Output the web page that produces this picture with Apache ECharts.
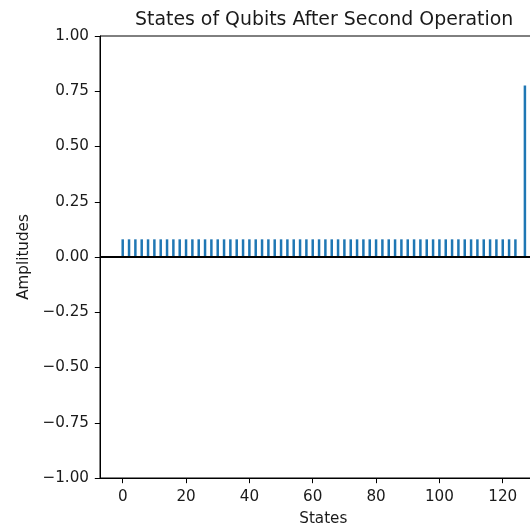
<!DOCTYPE html>
<html><head><meta charset="utf-8">
<script src="https://cdn.jsdelivr.net/npm/echarts@6/dist/echarts.min.js"></script>
<style>html,body{margin:0;padding:0;background:#fff}#c{width:530px;height:527px}</style>
</head><body><div id="c"></div>
<script>
const title = "States of Qubits After Second Operation";
const xLabel = "States";
const yLabel = "Amplitudes";
const xTicks = [0, 20, 40, 60, 80, 100, 120];
const yTicks = [-1, -0.75, -0.5, -0.25, 0, 0.25, 0.5, 0.75, 1];
const states = [];
for (let i = 0; i < 128; i++) states.push(i);
const amplitudes = [
  0.08,0,0.08,0,0.08,0,0.08,0,0.08,0,0.08,0,0.08,0,0.08,0,
  0.08,0,0.08,0,0.08,0,0.08,0,0.08,0,0.08,0,0.08,0,0.08,0,
  0.08,0,0.08,0,0.08,0,0.08,0,0.08,0,0.08,0,0.08,0,0.08,0,
  0.08,0,0.08,0,0.08,0,0.08,0,0.08,0,0.08,0,0.08,0,0.08,0,
  0.08,0,0.08,0,0.08,0,0.08,0,0.08,0,0.08,0,0.08,0,0.08,0,
  0.08,0,0.08,0,0.08,0,0.08,0,0.08,0,0.08,0,0.08,0,0.08,0,
  0.08,0,0.08,0,0.08,0,0.08,0,0.08,0,0.08,0,0.08,0,0.08,0,
  0.08,0,0.08,0,0.08,0,0.08,0,0.08,0,0.08,0,0.08,0,0,0.776
];
const font = "DejaVu Sans";
const txt = '#1a1a1a';
const chart = echarts.init(document.getElementById('c'), null, {renderer:'canvas'});
const fmt = v => (v < 0 ? '\u2212' : '') + Math.abs(v).toFixed(2);
chart.setOption({
  animation: false,
  backgroundColor: '#fff',
  title: {text: title, left: 130, top: 6,
    textStyle: {fontFamily: font, fontSize: 18.9, fontWeight: 'normal', color: txt}},
  grid: {left: 100, top: 36, width: 446.6, height: 442, outerBoundsMode: 'none', containLabel: false,
    show: true, borderColor: '#000', borderWidth: 1, backgroundColor: 'transparent'},
  xAxis: {
    type: 'value', min: -7.17, max: 133.85,
    name: xLabel, nameLocation: 'middle', nameGap: 34,
    nameTextStyle: {fontFamily: font, fontSize: 15.2, color: txt},
    axisLine: {show: true, onZero: false, lineStyle: {color: '#000', width: 1}},
    axisTick: {show: true, length: 5.2, inside: false, customValues: xTicks, lineStyle: {color: '#000'}},
    axisLabel: {customValues: xTicks, fontFamily: font, fontSize: 15.2, color: txt, margin: 12, showMinLabel: true, showMaxLabel: true},
    splitLine: {show: false}
  },
  yAxis: {
    type: 'value', min: -1, max: 1, interval: 0.25,
    name: yLabel, nameLocation: 'middle', nameGap: 66, nameRotate: 90,
    nameTextStyle: {fontFamily: font, fontSize: 15.2, color: txt},
    axisLine: {show: true, onZero: false, lineStyle: {color: '#000', width: 1}},
    axisTick: {show: true, length: 5.2, lineStyle: {color: '#000'}},
    axisLabel: {formatter: fmt, fontFamily: font, fontSize: 15.2, color: txt, margin: 11},
    splitLine: {show: false}
  },
  series: [{
    type: 'bar',
    data: states.map((s, i) => [s, amplitudes[i]]),
    barWidth: 2.5,
    itemStyle: {color: '#1f77b4'},
    markLine: {
      silent: true, symbol: 'none', label: {show: false},
      lineStyle: {color: '#000', width: 2, type: 'solid'},
      data: [{yAxis: 0}]
    }
  }]
});
</script></body></html>
